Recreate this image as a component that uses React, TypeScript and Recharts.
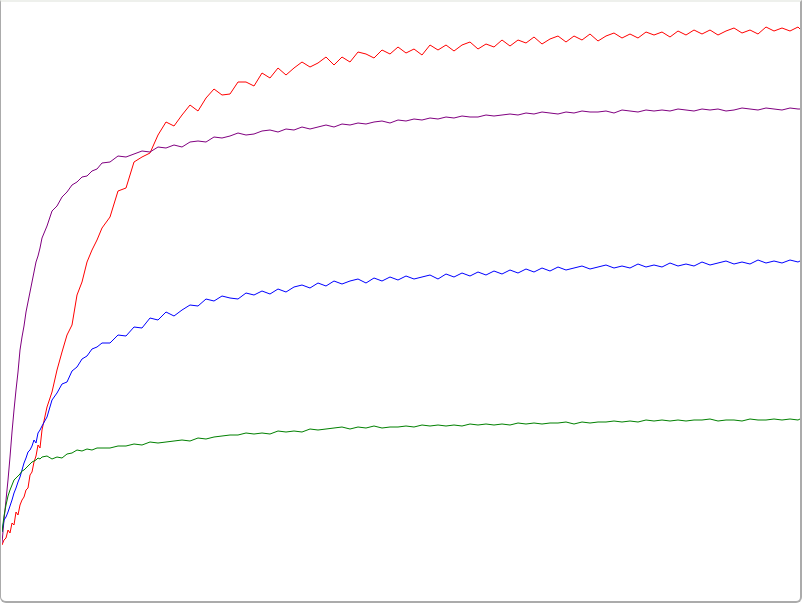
import { LineChart, Line, XAxis, YAxis } from 'recharts'

// training steps (denser near the start where curves rise fast)
const steps = [
  0, 2, 4, 6, 8, 10, 12, 14, 16, 18, 20, 22, 24, 26, 28, 30, 32, 34, 36, 38, 40,
  45, 50, 55, 60, 65, 70, 75, 80, 85, 90, 95, 100,
  108, 116, 124, 132, 140, 148, 156, 164, 172, 180, 188, 196,
  204, 212, 220, 228, 236, 244, 252, 260, 268, 276, 284, 292, 300,
  308, 316, 324, 332, 340, 348, 356, 364, 372, 380, 388, 396,
  404, 412, 420, 428, 436, 444, 452, 460, 468, 476, 484, 492, 500,
  508, 516, 524, 532, 540, 548, 556, 564, 572, 580, 588, 596,
  604, 612, 620, 628, 636, 644, 652, 660, 668, 676, 684, 692, 700,
  708, 716, 724, 732, 740, 748, 756, 764, 772, 780, 788, 796,
  798,
]

const redRun = [
  5.5, 6.0, 6.2, 7.0, 6.7, 7.7, 7.5, 8.8, 8.5, 9.5, 10.0, 10.3, 11.0, 11.2, 12.5, 12.8, 13.8, 14.4, 15.5, 15.2, 17.0,
  19.3, 20.8, 23.0, 24.8, 26.5, 27.5, 30.5, 31.8, 33.8, 35.0, 36.0, 37.2,
  38.3, 40.9, 41.2, 43.8, 44.3, 44.7, 46.5, 47.8, 47.4, 48.5,
  49.5, 48.9, 50.2, 51.1, 50.5, 50.6, 51.8, 51.8, 51.4, 52.7,
  52.2, 53.2, 52.5, 53.2, 53.8, 53.3, 53.7, 54.3, 53.5, 54.3,
  53.8, 54.8, 54.6, 54.2, 55.0, 54.6, 55.3, 54.7, 55.1, 54.5,
  55.5, 55.0, 55.5, 54.9, 55.5, 55.8, 55.1, 55.6, 55.3, 56.0,
  55.4, 56.0, 55.7, 56.3, 55.6, 56.1, 56.4, 55.8, 56.4, 56.0,
  56.6, 55.9, 56.4, 56.7, 56.2, 56.6, 56.2, 56.8, 56.5, 56.8,
  56.3, 56.9, 56.5, 57.0, 56.6, 57.0, 56.5, 56.9, 57.2, 56.7,
  57.0, 56.6, 57.3, 56.9, 57.2, 56.9, 57.3,
  57.1,
]

const purpleRun = [
  5.7, 8.0, 10.0, 12.0, 14.3, 16.8, 19.0, 21.0, 22.8, 25.0, 26.3, 27.4, 28.8, 29.8, 30.8, 31.8, 32.8, 33.8, 34.4, 35.2, 36.2,
  37.4, 38.9, 39.4, 40.3, 40.8, 41.5, 41.8, 42.3, 42.4, 42.9, 43.1, 43.7,
  43.8, 44.4, 44.3, 44.6, 44.9, 44.8, 45.3, 45.2, 45.5, 45.3,
  45.8, 45.9, 45.8, 46.3, 46.2, 46.4, 46.7, 46.5, 46.6, 46.9,
  47.0, 46.8, 47.1, 47.0, 47.3, 47.1, 47.3, 47.5, 47.3, 47.6,
  47.5, 47.7, 47.6, 47.8, 47.9, 47.7, 48.0, 47.9, 48.1, 48.0,
  48.2, 48.1, 48.3, 48.2, 48.4, 48.3, 48.3, 48.5, 48.4, 48.5,
  48.6, 48.5, 48.7, 48.6, 48.8, 48.7, 48.6, 48.8, 48.7, 48.9,
  48.8, 48.8, 48.9, 48.7, 49.0, 48.9, 48.8, 49.0, 48.9, 49.0,
  48.9, 49.1, 49.0, 48.9, 49.1, 49.0, 49.1, 48.9, 49.0, 49.2,
  49.1, 49.0, 49.2, 49.1, 49.0, 49.2, 49.1,
  49.1,
]

const blueRun = [
  6.8, 8.0, 8.3, 8.8, 9.4, 10.0, 10.7, 11.2, 11.8, 12.3, 13.0, 13.7, 14.2, 14.8, 15.0, 15.4, 16.0, 15.7, 16.7, 17.0, 17.4,
  18.3, 20.0, 20.7, 21.6, 21.8, 22.9, 23.3, 24.1, 24.4, 25.1, 25.3, 25.7,
  25.7, 26.5, 26.4, 27.3, 27.2, 28.2, 28.0, 28.8, 28.4, 29.0,
  29.5, 29.4, 30.1, 29.9, 30.4, 30.2, 30.1, 30.7, 30.5, 30.9,
  30.6, 31.1, 30.8, 31.3, 31.5, 31.2, 31.7, 31.4, 31.9, 31.6,
  31.9, 32.1, 31.7, 32.2, 31.9, 32.3, 32.0, 32.4, 32.1, 32.3,
  32.5, 32.1, 32.6, 32.3, 32.7, 32.4, 32.8, 32.5, 32.9, 32.6,
  33.0, 32.7, 33.1, 32.8, 33.2, 32.9, 33.3, 33.0, 33.2, 33.4,
  33.1, 33.3, 33.5, 33.2, 33.4, 33.2, 33.6, 33.3, 33.5, 33.3,
  33.7, 33.4, 33.6, 33.4, 33.8, 33.5, 33.7, 33.9, 33.6, 33.8,
  33.6, 34.0, 33.7, 33.9, 33.7, 34.0, 33.8,
  33.9,
]

const greenRun = [
  6.8, 8.4, 9.5, 10.4, 11.0, 11.5, 12.0, 12.2, 12.4, 12.6, 12.9, 13.0, 13.2, 13.4, 13.6, 13.8, 13.9, 14.0, 14.2, 14.1, 14.3,
  14.4, 14.1, 14.3, 14.2, 14.6, 14.7, 15.0, 14.9, 15.1, 15.0, 15.2, 15.2,
  15.2, 15.4, 15.4, 15.6, 15.5, 15.8, 15.7, 15.8, 15.9, 16.0,
  15.9, 16.2, 16.1, 16.3, 16.4, 16.5, 16.5, 16.7, 16.6, 16.7,
  16.6, 16.9, 16.8, 16.9, 16.8, 17.1, 17.0, 17.1, 17.2, 17.3,
  17.1, 17.3, 17.2, 17.4, 17.2, 17.3, 17.3, 17.4, 17.3, 17.5,
  17.4, 17.5, 17.4, 17.5, 17.4, 17.6, 17.5, 17.6, 17.5, 17.6,
  17.5, 17.7, 17.6, 17.7, 17.6, 17.7, 17.7, 17.8, 17.6, 17.8,
  17.7, 17.8, 17.8, 17.9, 17.8, 17.9, 17.8, 18.0, 17.9, 18.0,
  17.9, 18.0, 17.9, 18.0, 18.0, 18.1, 17.9, 18.0, 18.0, 17.9,
  18.1, 18.0, 18.0, 18.1, 18.0, 18.1, 18.0,
  18.1,
]

const chartData = steps.map((step, i) => ({
  step,
  red: redRun[i],
  purple: purpleRun[i],
  blue: blueRun[i],
  green: greenRun[i],
}))

export default function App() {
  return (
    <div style={{ position: 'fixed', left: 0, top: 0, width: 802, height: 603, background: '#fff' }}>
      <div style={{ position: 'absolute', left: 2, top: 0 }}>
        <LineChart width={798} height={600} data={chartData} margin={{ top: 0, right: 0, bottom: 0, left: 0 }}>
          <XAxis dataKey="step" type="number" domain={[0, 798]} hide />
          <YAxis type="number" domain={[0, 60]} hide />
          <Line type="linear" dataKey="red" stroke="#ff0000" strokeWidth={1} dot={false} isAnimationActive={false} />
          <Line type="linear" dataKey="purple" stroke="#800080" strokeWidth={1} dot={false} isAnimationActive={false} />
          <Line type="linear" dataKey="blue" stroke="#0000ff" strokeWidth={1} dot={false} isAnimationActive={false} />
          <Line type="linear" dataKey="green" stroke="#008000" strokeWidth={1} dot={false} isAnimationActive={false} />
        </LineChart>
      </div>
      {/* window frame */}
      <div
        style={{
          position: 'absolute',
          left: 0,
          top: 0,
          width: 802,
          height: 603,
          boxSizing: 'border-box',
          borderTop: '2px solid #eef0ec',
          borderLeft: '1px solid #ababab',
          borderRight: '2px solid #ababab',
          borderBottom: '2px solid #ababab',
          borderBottomLeftRadius: 6,
          borderBottomRightRadius: 6,
          pointerEvents: 'none',
        }}
      />
    </div>
  )
}
